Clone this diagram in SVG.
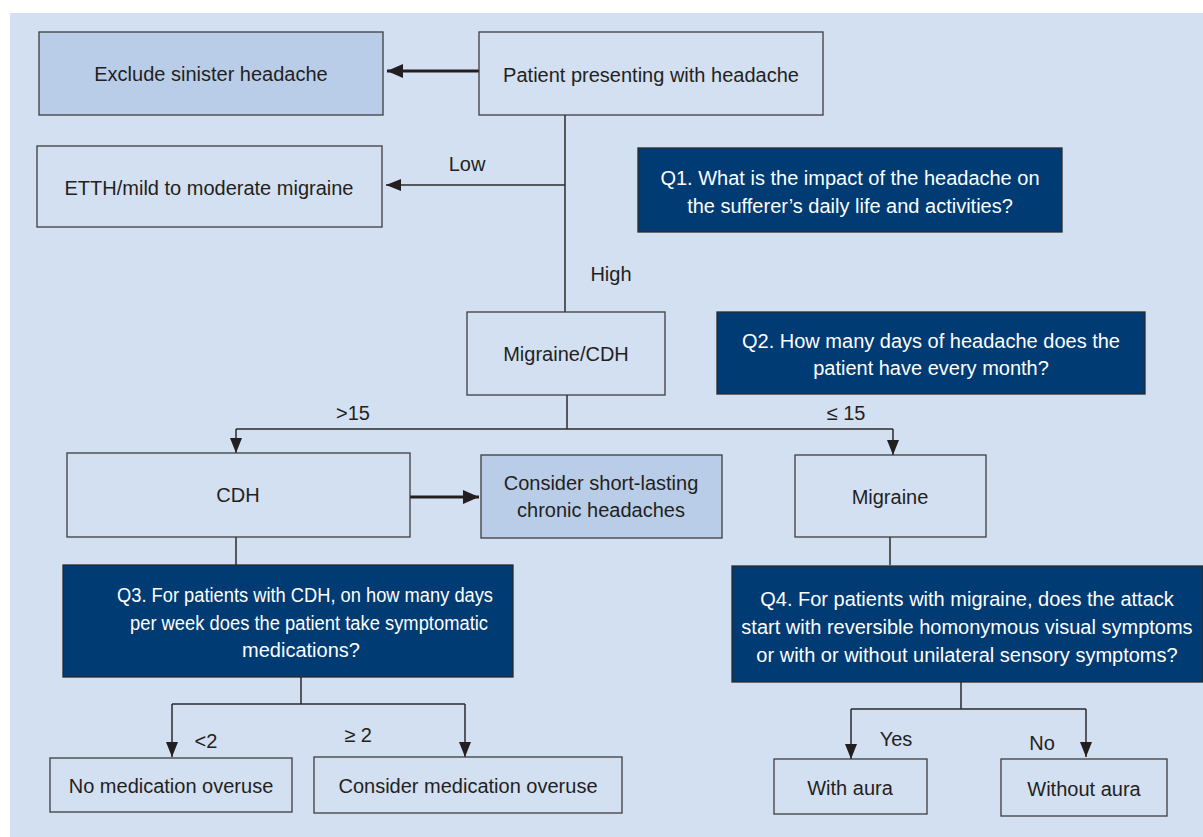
<svg xmlns="http://www.w3.org/2000/svg" width="1203" height="837" viewBox="0 0 1203 837">
<defs>
<style>
.bx{fill:#d3e0f2;stroke:#3c3c3c;stroke-width:1.3}
.lt{fill:#b9cde8;stroke:#3c3c3c;stroke-width:1.3}
.dk{fill:#003b73;stroke:#2a2a2a;stroke-width:1.3}
.t{font-family:"Liberation Sans",Arial,sans-serif;font-size:20px;fill:#231f20;text-anchor:middle}
.w{fill:#ffffff}
.ln{fill:none;stroke:#2b2b2b;stroke-width:1.5}
.th{fill:none;stroke:#231f20;stroke-width:3}
</style>
<marker id="ad" viewBox="0 0 15 12" refX="15" refY="6" markerWidth="15" markerHeight="12" markerUnits="userSpaceOnUse" orient="auto"><path d="M0,0 L15,6 L0,12 z" fill="#231f20"/></marker>
<marker id="ab" viewBox="0 0 16 14" refX="16" refY="7" markerWidth="16" markerHeight="14" markerUnits="userSpaceOnUse" orient="auto"><path d="M0,0 L16,7 L0,14 z" fill="#231f20"/></marker>
</defs>
<rect x="10" y="13" width="1193" height="824" fill="#d3e0f2"/>

<g id="connectors">
<path class="th" d="M479,71 H387" marker-end="url(#ab)"/>
<path class="ln" d="M565,115 V312"/>
<path class="ln" d="M565,185 H386" marker-end="url(#ad)"/>
<path class="ln" d="M567,395 V429"/>
<path class="ln" d="M236,429 H893"/>
<path class="ln" d="M236,429 V453" marker-end="url(#ad)"/>
<path class="ln" d="M893,429 V455" marker-end="url(#ad)"/>
<path class="th" d="M410,497 H479" marker-end="url(#ab)"/>
<path class="ln" d="M236,537 V565"/>
<path class="ln" d="M890,537 V565"/>
<path class="ln" d="M301,677 V704 M172,704 H465"/>
<path class="ln" d="M172,704 V757" marker-end="url(#ad)"/>
<path class="ln" d="M465,704 V757" marker-end="url(#ad)"/>
<path class="ln" d="M961,682 V709 M851,709 H1086"/>
<path class="ln" d="M851,709 V759" marker-end="url(#ad)"/>
<path class="ln" d="M1086,709 V757" marker-end="url(#ad)"/>
<text class="t" x="467" y="171">Low</text>
<text class="t" x="611" y="281">High</text>
<text class="t" x="353" y="420">&gt;15</text>
<text class="t" x="846" y="420">≤ 15</text>
<text class="t" x="206" y="748">&lt;2</text>
<text class="t" x="358" y="742">≥ 2</text>
<text class="t" x="896" y="746">Yes</text>
<text class="t" x="1042" y="750">No</text>
</g>

<g id="exclude"><rect class="lt" x="39" y="32" width="344" height="83"/><text class="t" x="211" y="81">Exclude sinister headache</text></g>
<g id="patient"><rect class="bx" x="479" y="32" width="344" height="83"/><text class="t" x="651" y="82">Patient presenting with headache</text></g>
<g id="etth"><rect class="bx" x="37" y="146" width="345" height="81"/><text class="t" x="209" y="195">ETTH/mild to moderate migraine</text></g>
<g id="q1"><rect class="dk" x="638" y="148" width="424" height="84"/><text class="t w" x="850" y="185">Q1. What is the impact of the headache on</text><text class="t w" x="850" y="213">the sufferer’s daily life and activities?</text></g>
<g id="migcdh"><rect class="bx" x="467" y="312" width="198" height="83"/><text class="t" x="566" y="361">Migraine/CDH</text></g>
<g id="q2"><rect class="dk" x="717" y="312" width="428" height="82"/><text class="t w" x="931" y="348">Q2. How many days of headache does the</text><text class="t w" x="931" y="375">patient have every month?</text></g>
<g id="cdh"><rect class="bx" x="67" y="453" width="343" height="84"/><text class="t" x="238" y="502">CDH</text></g>
<g id="shortlasting"><rect class="lt" x="481" y="455" width="241" height="83"/><text class="t" x="601" y="490">Consider short-lasting</text><text class="t" x="601" y="517">chronic headaches</text></g>
<g id="migraine"><rect class="bx" x="795" y="455" width="191" height="82"/><text class="t" x="890" y="504">Migraine</text></g>
<g id="q3"><rect class="dk" x="63" y="565" width="450" height="112"/><text class="t w" x="305" y="602" textLength="376" lengthAdjust="spacingAndGlyphs">Q3. For patients with CDH, on how many days</text><text class="t w" x="309" y="630" textLength="358" lengthAdjust="spacingAndGlyphs">per week does the patient take symptomatic</text><text class="t w" x="301" y="657">medications?</text></g>
<g id="q4"><rect class="dk" x="732" y="566" width="471" height="116"/><text class="t w" x="967" y="606">Q4. For patients with migraine, does the attack</text><text class="t w" x="967" y="634">start with reversible homonymous visual symptoms</text><text class="t w" x="967" y="662">or with or without unilateral sensory symptoms?</text></g>
<g id="nomed"><rect class="bx" x="50" y="758" width="242" height="54"/><text class="t" x="171" y="793">No medication overuse</text></g>
<g id="considermed"><rect class="bx" x="314" y="757" width="308" height="56"/><text class="t" x="468" y="793">Consider medication overuse</text></g>
<g id="withaura"><rect class="bx" x="774" y="759" width="153" height="55"/><text class="t" x="850" y="795">With aura</text></g>
<g id="withoutaura"><rect class="bx" x="1001" y="759" width="166" height="57"/><text class="t" x="1084" y="796">Without aura</text></g>
</svg>
